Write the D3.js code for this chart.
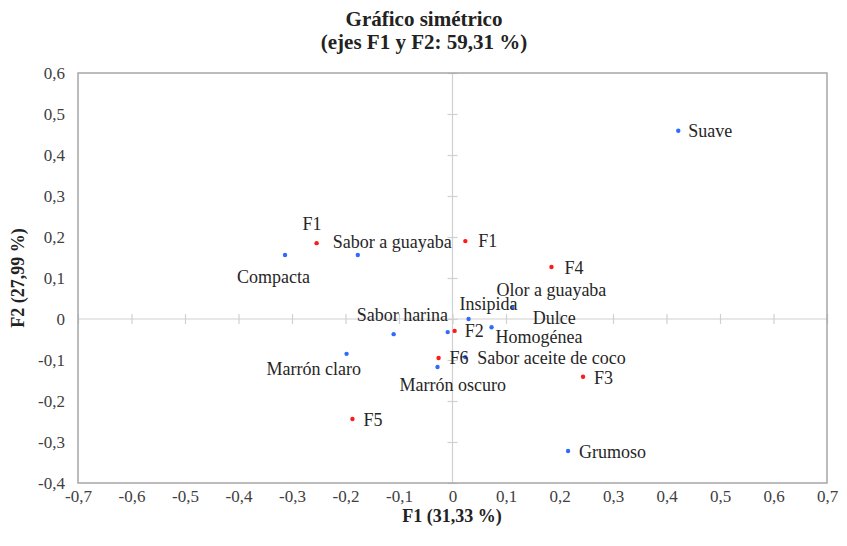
<!DOCTYPE html>
<html>
<head>
<meta charset="utf-8">
<script src="https://cdn.jsdelivr.net/npm/d3@7"></script>
<style>
  body { margin: 0; background: #fff; }
</style>
</head>
<body>
<div id="chart"></div>
<script>
// atributos (puntos azules)
let attrNames = ["Suave", "Compacta", "Sabor a guayaba", "Sabor harina", "Dulce", "Insipida",
                 "Homogénea", "Olor a guayaba", "Marrón claro", "Marrón oscuro", "Sabor aceite de coco", "Grumoso"];
let attrF1 = [0.422, -0.313, -0.177, -0.110, -0.009, 0.030, 0.073, 0.112, -0.198, -0.028, 0.024, 0.216];
let attrF2 = [0.459, 0.156, 0.156, -0.037, -0.032, 0.000, -0.020, 0.029, -0.085, -0.117, -0.093, -0.322];

// formulaciones (puntos rojos)
let formNames = ["F1", "F1", "F4", "F2", "F6", "F3", "F5"];
let formF1 = [-0.254, 0.024, 0.185, 0.004, -0.026, 0.244, -0.187];
let formF2 = [0.185, 0.190, 0.127, -0.029, -0.095, -0.141, -0.244];

let ticksX = [-0.7, -0.6, -0.5, -0.4, -0.3, -0.2, -0.1, 0, 0.1, 0.2, 0.3, 0.4, 0.5, 0.6, 0.7];
let ticksY = [-0.4, -0.3, -0.2, -0.1, 0, 0.1, 0.2, 0.3, 0.4, 0.5, 0.6];

// label offsets in px (layout only)
let attrLabelOff = [[10, 6], [-48, 28], [-25, -7], [-37, -13], [85, -8], [-9, -9],
                    [4, 16], [-16, -11], [-80, 21], [-38, 24], [12, 7], [11, 7]];
let formLabelOff = [[-14, -13], [13, 6], [13, 7], [10, 6], [11, 6], [11, 7], [11, 7]];

let width = 847, height = 546;
let plotL = 78, plotR = 827, plotT = 73, plotB = 483;
let serif = "'Liberation Serif', 'Times New Roman', serif";

let svg = d3.select("#chart").append("svg")
    .attr("width", width)
    .attr("height", height);

let x = d3.scaleLinear().domain([-0.7, 0.7]).range([plotL, plotR]);
let y = d3.scaleLinear().domain([-0.4, 0.6]).range([plotB, plotT]);

let fmt = function(d) {
    if (Math.abs(d) < 1e-9) return "0";
    return (Math.round(d * 10) / 10).toString().replace(".", ",");
};

// zero lines with crossing ticks
let zeroColor = "#d0d0d0";
svg.append("line")
    .attr("x1", plotL).attr("x2", plotR)
    .attr("y1", y(0)).attr("y2", y(0))
    .attr("stroke", zeroColor).attr("stroke-width", 1.2);
svg.append("line")
    .attr("x1", x(0)).attr("x2", x(0))
    .attr("y1", plotT).attr("y2", plotB)
    .attr("stroke", zeroColor).attr("stroke-width", 1.2);

function crossTicks(g) {
    g.select(".domain").remove();
    g.selectAll(".tick text").remove();
    g.selectAll(".tick line").attr("stroke", zeroColor).attr("stroke-width", 1.2);
}
svg.append("g").attr("transform", "translate(0," + y(0) + ")")
    .call(d3.axisBottom(x).tickValues(ticksX).tickSize(5)).call(crossTicks);
svg.append("g").attr("transform", "translate(0," + y(0) + ")")
    .call(d3.axisTop(x).tickValues(ticksX).tickSize(5)).call(crossTicks);
svg.append("g").attr("transform", "translate(" + x(0) + ",0)")
    .call(d3.axisLeft(y).tickValues(ticksY).tickSize(5)).call(crossTicks);
svg.append("g").attr("transform", "translate(" + x(0) + ",0)")
    .call(d3.axisRight(y).tickValues(ticksY).tickSize(5)).call(crossTicks);

// frame
svg.append("rect")
    .attr("x", plotL).attr("y", plotT)
    .attr("width", plotR - plotL).attr("height", plotB - plotT)
    .attr("fill", "none").attr("stroke", "#a6a6a6").attr("stroke-width", 1.5);

// tick labels
let xAxis = svg.append("g").attr("transform", "translate(0," + plotB + ")")
    .call(d3.axisBottom(x).tickValues(ticksX).tickFormat(fmt).tickSize(0).tickPadding(7));
xAxis.attr("font-family", serif).attr("font-size", 17);
xAxis.select(".domain").remove();
xAxis.selectAll("text").attr("fill", "#404040");

let yAxis = svg.append("g").attr("transform", "translate(" + plotL + ",0)")
    .call(d3.axisLeft(y).tickValues(ticksY).tickFormat(fmt).tickSize(0).tickPadding(13));
yAxis.attr("font-family", serif).attr("font-size", 17);
yAxis.select(".domain").remove();
yAxis.selectAll("text").attr("fill", "#404040");

// titles
function title(txt, tx, ty, size, rot) {
    svg.append("text")
        .attr("transform", "translate(" + tx + "," + ty + ")" + (rot ? " rotate(-90)" : ""))
        .attr("text-anchor", "middle")
        .attr("font-family", serif).attr("font-weight", "bold").attr("font-size", size)
        .attr("fill", "#222").text(txt);
}
title("Gráfico simétrico", 424, 26, 21);
title("(ejes F1 y F2: 59,31 %)", 424, 49, 21);
title("F1 (31,33 %)", 452, 522, 18);
title("F2 (27,99 %)", 24, 278, 18, true);

// points
function drawSeries(names, f1, f2, offs, color) {
    let data = names.map(function(n, i) { return {name: n, f1: f1[i], f2: f2[i], off: offs[i]}; });
    let g = svg.append("g");
    g.selectAll("circle").data(data).enter().append("circle")
        .attr("cx", function(d) { return x(d.f1); })
        .attr("cy", function(d) { return y(d.f2); })
        .attr("r", 2.2)
        .attr("fill", color);
    g.selectAll("text").data(data).enter().append("text")
        .attr("x", function(d) { return x(d.f1) + d.off[0]; })
        .attr("y", function(d) { return y(d.f2) + d.off[1]; })
        .attr("font-family", serif).attr("font-size", 18)
        .attr("fill", "#262626")
        .text(function(d) { return d.name; });
}
drawSeries(attrNames, attrF1, attrF2, attrLabelOff, "#2f6bff");
drawSeries(formNames, formF1, formF2, formLabelOff, "#ff1a1a");
</script>
</body>
</html>
